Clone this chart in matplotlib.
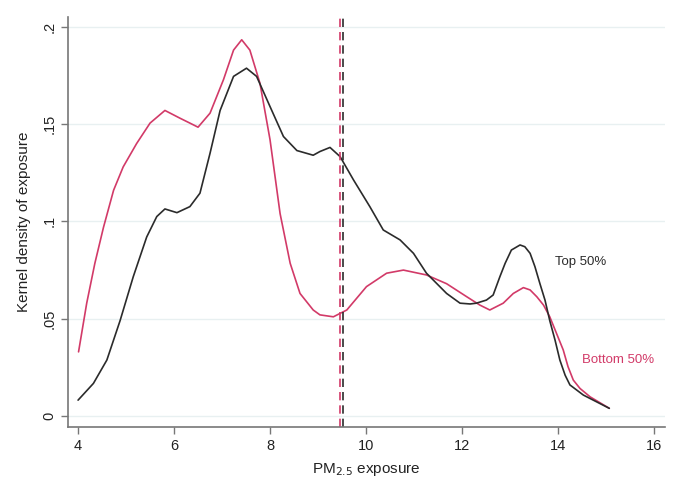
import matplotlib
matplotlib.use("Agg")
import matplotlib.pyplot as plt

# Top 50% (black)
top_x = [4.0, 4.32, 4.6, 4.875, 5.15, 5.43, 5.64, 5.81, 6.06, 6.33, 6.54, 6.75, 6.96,
         7.24, 7.51, 7.72, 8.0, 8.28, 8.56, 8.9, 9.04, 9.25, 9.46, 9.74, 10.08, 10.36,
         10.71, 10.99, 11.26, 11.68, 11.96, 12.17, 12.3, 12.51, 12.65, 12.79, 12.9, 13.03,
         13.21, 13.31, 13.42, 13.52, 13.625, 13.73, 13.83, 13.94, 14.04, 14.15, 14.25,
         14.53, 14.8, 15.07]
top_y = [0.0082, 0.0168, 0.0288, 0.049, 0.0716, 0.092, 0.1025, 0.1064, 0.1045, 0.1076,
         0.1145, 0.135, 0.157, 0.1745, 0.1787, 0.1745, 0.159, 0.1436, 0.1364, 0.134,
         0.1359, 0.138, 0.1333, 0.1213, 0.1076, 0.0956, 0.0905, 0.0836, 0.0734, 0.063,
         0.058, 0.0576, 0.058, 0.0596, 0.0622, 0.0716, 0.0785, 0.0853, 0.0879, 0.087,
         0.0836, 0.0768, 0.068, 0.0596, 0.049, 0.039, 0.0288, 0.021, 0.016, 0.0108,
         0.0074, 0.004]

# Bottom 50% (pink)
bot_x = [4.01, 4.18, 4.35, 4.53, 4.74, 4.94, 5.22, 5.5, 5.81, 6.125, 6.33, 6.5, 6.75,
         7.03, 7.24, 7.41, 7.58, 7.79, 8.0, 8.21, 8.42, 8.625, 8.9, 9.04, 9.32, 9.6,
         10.01, 10.43, 10.78, 11.26, 11.68, 12.1, 12.375, 12.58, 12.86, 13.07, 13.28,
         13.42, 13.56, 13.7, 13.83, 13.97, 14.11, 14.21, 14.32, 14.46, 14.67, 15.07]
bot_y = [0.033, 0.058, 0.0785, 0.097, 0.116, 0.128, 0.140, 0.1505, 0.157, 0.153, 0.1505,
         0.1484, 0.1556, 0.1728, 0.188, 0.1933, 0.188, 0.171, 0.142, 0.104, 0.0785,
         0.063, 0.0545, 0.052, 0.051, 0.0545, 0.0665, 0.0734, 0.075, 0.0725, 0.068,
         0.0613, 0.057, 0.0545, 0.058, 0.063, 0.066, 0.0648, 0.0613, 0.057, 0.051,
         0.0425, 0.034, 0.0254, 0.0185, 0.0142, 0.0099, 0.004]

mean_bottom = 9.46
mean_top = 9.53

xticks = [4, 6, 8, 10, 12, 14, 16]
yticks = [0, 0.05, 0.1, 0.15, 0.2]
ytick_labels = ["0", ".05", ".1", ".15", ".2"]

BLACK = "#2b2b2b"
PINK = "#d23a68"

fig = plt.figure(figsize=(6.82, 4.8), dpi=100)
ax = fig.add_axes([0.0997, 0.110, 0.8753, 0.855])

for y in yticks:
    ax.axhline(y, color="#e8f0f1", lw=1.0, zorder=0)

ax.plot(bot_x, bot_y, color=PINK, lw=1.2, solid_joinstyle="round", solid_capstyle="round")
ax.plot(top_x, top_y, color=BLACK, lw=1.2, solid_joinstyle="round", solid_capstyle="round")
ax.axvline(mean_bottom, color=PINK, lw=1.2, ls=(0, (5, 3)))
ax.axvline(mean_top, color=BLACK, lw=1.2, ls=(0, (5, 3)))

ax.text(13.94, 0.079, "Top 50%", color=BLACK, fontsize=9.5, va="center",
        family="Liberation Sans")
ax.text(14.5, 0.029, "Bottom 50%", color=PINK, fontsize=9.5, va="center",
        family="Liberation Sans")

ax.set_xlim(3.79, 16.23)
ax.set_ylim(-0.0057, 0.2051)
ax.set_xticks(xticks)
ax.set_xticklabels([str(t) for t in xticks])
ax.set_yticks(yticks)
ax.set_yticklabels(ytick_labels, rotation=90, va="center")

for s in ["top", "right"]:
    ax.spines[s].set_visible(False)
for s in ["left", "bottom"]:
    ax.spines[s].set_color("#777777")
    ax.spines[s].set_linewidth(1.2)
ax.tick_params(axis="both", colors="#777777", length=5, width=1.0,
               labelsize=10.5, labelcolor="#222222")
for lab in ax.get_xticklabels() + ax.get_yticklabels():
    lab.set_family("Liberation Sans")

ax.set_ylabel("Kernel density of exposure", fontsize=11, color="#222222",
              family="Liberation Sans", labelpad=8)
ax.set_xlabel("PM$_{2.5}$ exposure", fontsize=11, color="#222222",
              family="Liberation Sans", labelpad=6)

fig.savefig("out.png", dpi=100)
